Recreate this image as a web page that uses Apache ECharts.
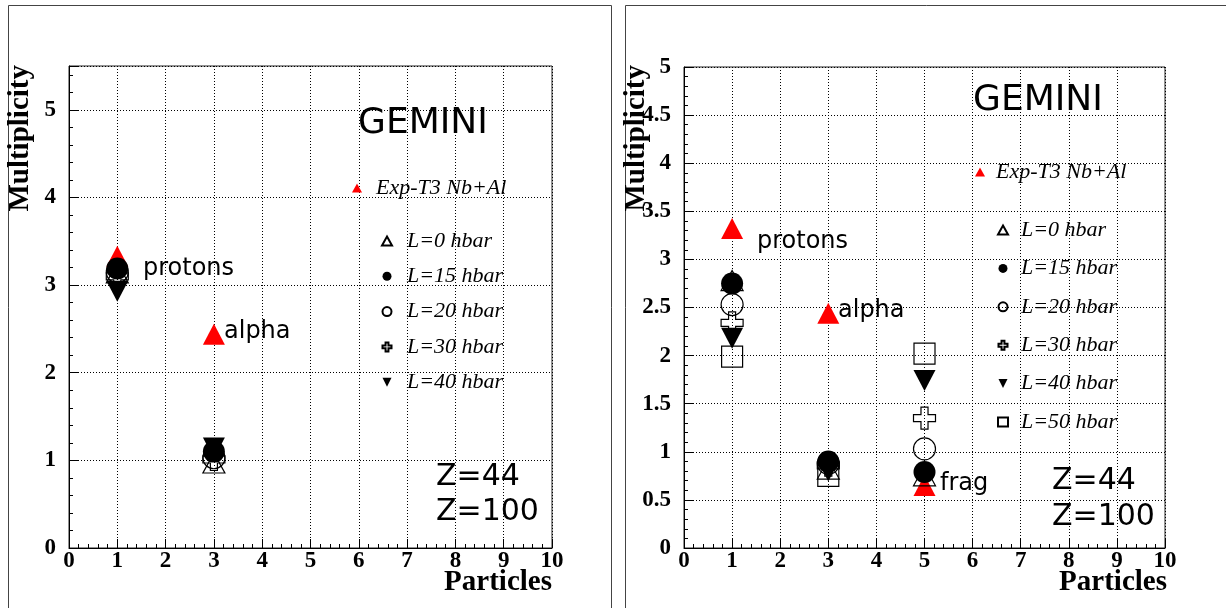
<!DOCTYPE html>
<html>
<head>
<meta charset="utf-8">
<script src="https://cdn.jsdelivr.net/npm/echarts@6/dist/echarts.min.js"></script>
<style>
  html, body { margin: 0; padding: 0; background: #fff; }
  #chart { width: 1226px; height: 608px; }
</style>
</head>
<body>
<div id="chart"></div>
<script>
// Particle species positions on the x axis (1 = protons, 3 = alpha, 5 = fragments)
const leftParticles = [1, 3];
const rightParticles = [1, 3, 5];

// Left panel: multiplicities
const leftExp = [3.33, 2.44];
const leftL0  = [3.14, 0.97];
const leftL15 = [3.19, 1.10];
const leftL20 = [3.15, 1.03];
const leftL30 = [3.10, 1.01];
const leftL40 = [2.93, 1.14];

// Right panel: multiplicities
const rightExp = [3.32, 2.44, 0.65];
const rightL0  = [2.78, 0.82, 0.75];
const rightL15 = [2.75, 0.90, 0.79];
const rightL20 = [2.53, 0.88, 1.03];
const rightL30 = [2.34, 0.86, 1.35];
const rightL40 = [2.18, 0.80, 1.74];
const rightL50 = [1.99, 0.75, 2.02];

// Series names
const expName = 'Exp-T3 Nb+Al';
const leftNames = ['L=0 hbar', 'L=15 hbar', 'L=20 hbar', 'L=30 hbar', 'L=40 hbar'];
const rightNames = ['L=0 hbar', 'L=15 hbar', 'L=20 hbar', 'L=30 hbar', 'L=40 hbar', 'L=50 hbar'];

// Marker shapes
const downTri = 'path://M0,0L10,0L5,10Z';
const openCross = 'path://M3.4,0H6.6V3.4H10V6.6H6.6V10H3.4V6.6H0V3.4H3.4Z';

const markerDefs = {
  'L=0 hbar':  { symbol: 'triangle', size: [22, 20], filled: false },
  'L=15 hbar': { symbol: 'circle', size: 22, filled: true },
  'L=20 hbar': { symbol: 'circle', size: 22, filled: false },
  'L=30 hbar': { symbol: openCross, size: 22, filled: false },
  'L=40 hbar': { symbol: downTri, size: [22, 21], filled: true },
  'L=50 hbar': { symbol: 'rect', size: 21, filled: false }
};
const legendIcon = {
  'L=0 hbar': 'triangle', 'L=15 hbar': 'circle', 'L=20 hbar': 'circle',
  'L=30 hbar': openCross, 'L=40 hbar': downTri, 'L=50 hbar': 'rect'
};

function pts(xs, ys) { return xs.map((x, i) => [x, ys[i]]); }

function modelSeries(name, xs, ys, idx) {
  const d = markerDefs[name];
  return {
    type: 'scatter', name: name, xAxisIndex: idx, yAxisIndex: idx,
    data: pts(xs, ys), symbol: d.symbol, symbolSize: d.size, silent: true,
    itemStyle: d.filled
      ? { color: '#000', borderWidth: 0, opacity: 1 }
      : { color: 'rgba(255,255,255,0)', borderColor: '#000', borderWidth: 1.2, opacity: 1 }
  };
}
function expSeries(xs, ys, idx) {
  return {
    type: 'scatter', name: expName, xAxisIndex: idx, yAxisIndex: idx,
    data: pts(xs, ys), symbol: 'triangle', symbolSize: [22, 21], silent: true,
    itemStyle: { color: '#ff0000', borderWidth: 0, opacity: 1 }
  };
}

const serif = 'Liberation Serif';
const sans = 'DejaVu Sans';

function xAxisFor(idx) {
  return {
    type: 'value', gridIndex: idx, min: 0, max: 10, interval: 1,
    axisLine: { show: true, onZero: false, lineStyle: { color: '#000', width: 1 } },
    axisTick: { show: true, inside: true, length: 9, lineStyle: { color: '#000' } },
    minorTick: { show: true, splitNumber: 5, length: 4, lineStyle: { color: '#000' } },
    axisLabel: { color: '#000', fontFamily: serif, fontWeight: 'bold', fontSize: 23, margin: 2 },
    splitLine: { show: true, lineStyle: { color: '#000', width: 1, type: [1, 2] } }
  };
}
function yAxisFor(idx, max, interval) {
  return {
    type: 'value', gridIndex: idx, min: 0, max: max, interval: interval,
    axisLine: { show: true, onZero: false, lineStyle: { color: '#000', width: 1 } },
    axisTick: { show: true, inside: true, length: 9, lineStyle: { color: '#000' } },
    minorTick: { show: true, splitNumber: 5, length: 4, lineStyle: { color: '#000' } },
    axisLabel: {
      color: '#000', fontFamily: serif, fontWeight: 'bold', fontSize: 23, margin: 13,
      formatter: v => (Math.abs(v / interval - Math.round(v / interval)) > 1e-6 ? '' : String(v))
    },
    splitLine: { show: true, lineStyle: { color: '#000', width: 1, type: [1, 2] } }
  };
}

const legendText = { fontFamily: serif, fontStyle: 'italic', fontSize: 22, lineHeight: 22, color: '#000' };

function legendBlock(names, left, top, gap, pad) {
  return {
    orient: 'vertical', left: left, top: top, itemGap: gap, itemWidth: 10, itemHeight: 9,
    selectedMode: false, padding: 0,
    data: names.map(n => ({ name: n, icon: legendIcon[n] || 'triangle' })),
    textStyle: Object.assign({ padding: [0, 0, 0, pad] }, legendText)
  };
}

function txt(x, y, s, font, size, extra) {
  return {
    type: 'text', x: x, y: y, silent: true,
    style: Object.assign({ text: s, fontFamily: font, fontSize: size, fill: '#000',
      align: 'left', verticalAlign: 'middle' }, extra || {})
  };
}

const series = [
  expSeries(leftParticles, leftExp, 0),
  modelSeries('L=0 hbar', leftParticles, leftL0, 0),
  modelSeries('L=15 hbar', leftParticles, leftL15, 0),
  modelSeries('L=20 hbar', leftParticles, leftL20, 0),
  modelSeries('L=30 hbar', leftParticles, leftL30, 0),
  modelSeries('L=40 hbar', leftParticles, leftL40, 0),
  expSeries(rightParticles, rightExp, 1),
  modelSeries('L=0 hbar', rightParticles, rightL0, 1),
  modelSeries('L=15 hbar', rightParticles, rightL15, 1),
  modelSeries('L=20 hbar', rightParticles, rightL20, 1),
  modelSeries('L=30 hbar', rightParticles, rightL30, 1),
  modelSeries('L=40 hbar', rightParticles, rightL40, 1),
  modelSeries('L=50 hbar', rightParticles, rightL50, 1)
];

const option = {
  animation: false,
  backgroundColor: '#fff',
  grid: [
    { left: 69, top: 66, width: 483, height: 482, show: true, borderColor: '#222', borderWidth: 1, backgroundColor: 'transparent' },
    { left: 684, top: 67, width: 481, height: 481, show: true, borderColor: '#222', borderWidth: 1, backgroundColor: 'transparent' }
  ],
  xAxis: [xAxisFor(0), xAxisFor(1)],
  yAxis: [yAxisFor(0, 5.5, 1), yAxisFor(1, 5, 0.5)],
  legend: [
    legendBlock([expName], 352, 177, 10, 9),
    legendBlock(leftNames, 381, 230, 13.3, 10),
    legendBlock([expName], 975, 161, 10, 6),
    legendBlock(rightNames, 997, 219, 16.4, 8)
  ],
  series: series,
  graphic: [
    // panel frames
    { type: 'rect', silent: true, z: -1, shape: { x: 8.5, y: 5.5, width: 603, height: 620 },
      style: { fill: 'none', stroke: '#444', lineWidth: 1 } },
    { type: 'rect', silent: true, z: -1, shape: { x: 625.5, y: 5.5, width: 620, height: 620 },
      style: { fill: 'none', stroke: '#444', lineWidth: 1 } },
    // axis titles
    { type: 'text', x: 21, y: 65, rotation: Math.PI / 2, silent: true,
      style: { text: 'Multiplicity', fontFamily: serif, fontWeight: 'bold', fontSize: 29, fill: '#000', align: 'right', verticalAlign: 'middle' } },
    { type: 'text', x: 637, y: 65, rotation: Math.PI / 2, silent: true,
      style: { text: 'Multiplicity', fontFamily: serif, fontWeight: 'bold', fontSize: 29, fill: '#000', align: 'right', verticalAlign: 'middle' } },
    txt(552, 583, 'Particles', serif, 29, { fontWeight: 'bold', align: 'right' }),
    txt(1167, 583, 'Particles', serif, 29, { fontWeight: 'bold', align: 'right' }),
    // annotations, left panel
    txt(358, 124, 'GEMINI', sans, 36),
    txt(143, 269, 'protons', sans, 24),
    txt(224, 332, 'alpha', sans, 24),
    txt(436, 477, 'Z=44', sans, 30),
    txt(436, 512, 'Z=100', sans, 30),
    // annotations, right panel
    txt(973, 101, 'GEMINI', sans, 36),
    txt(757, 242, 'protons', sans, 24),
    txt(838, 311, 'alpha', sans, 24),
    txt(940, 484, 'frag', sans, 24),
    txt(1052, 481, 'Z=44', sans, 30),
    txt(1052, 517, 'Z=100', sans, 30)
  ]
};

const chart = echarts.init(document.getElementById('chart'), null, { renderer: 'canvas' });
chart.setOption(option);
</script>
</body>
</html>
